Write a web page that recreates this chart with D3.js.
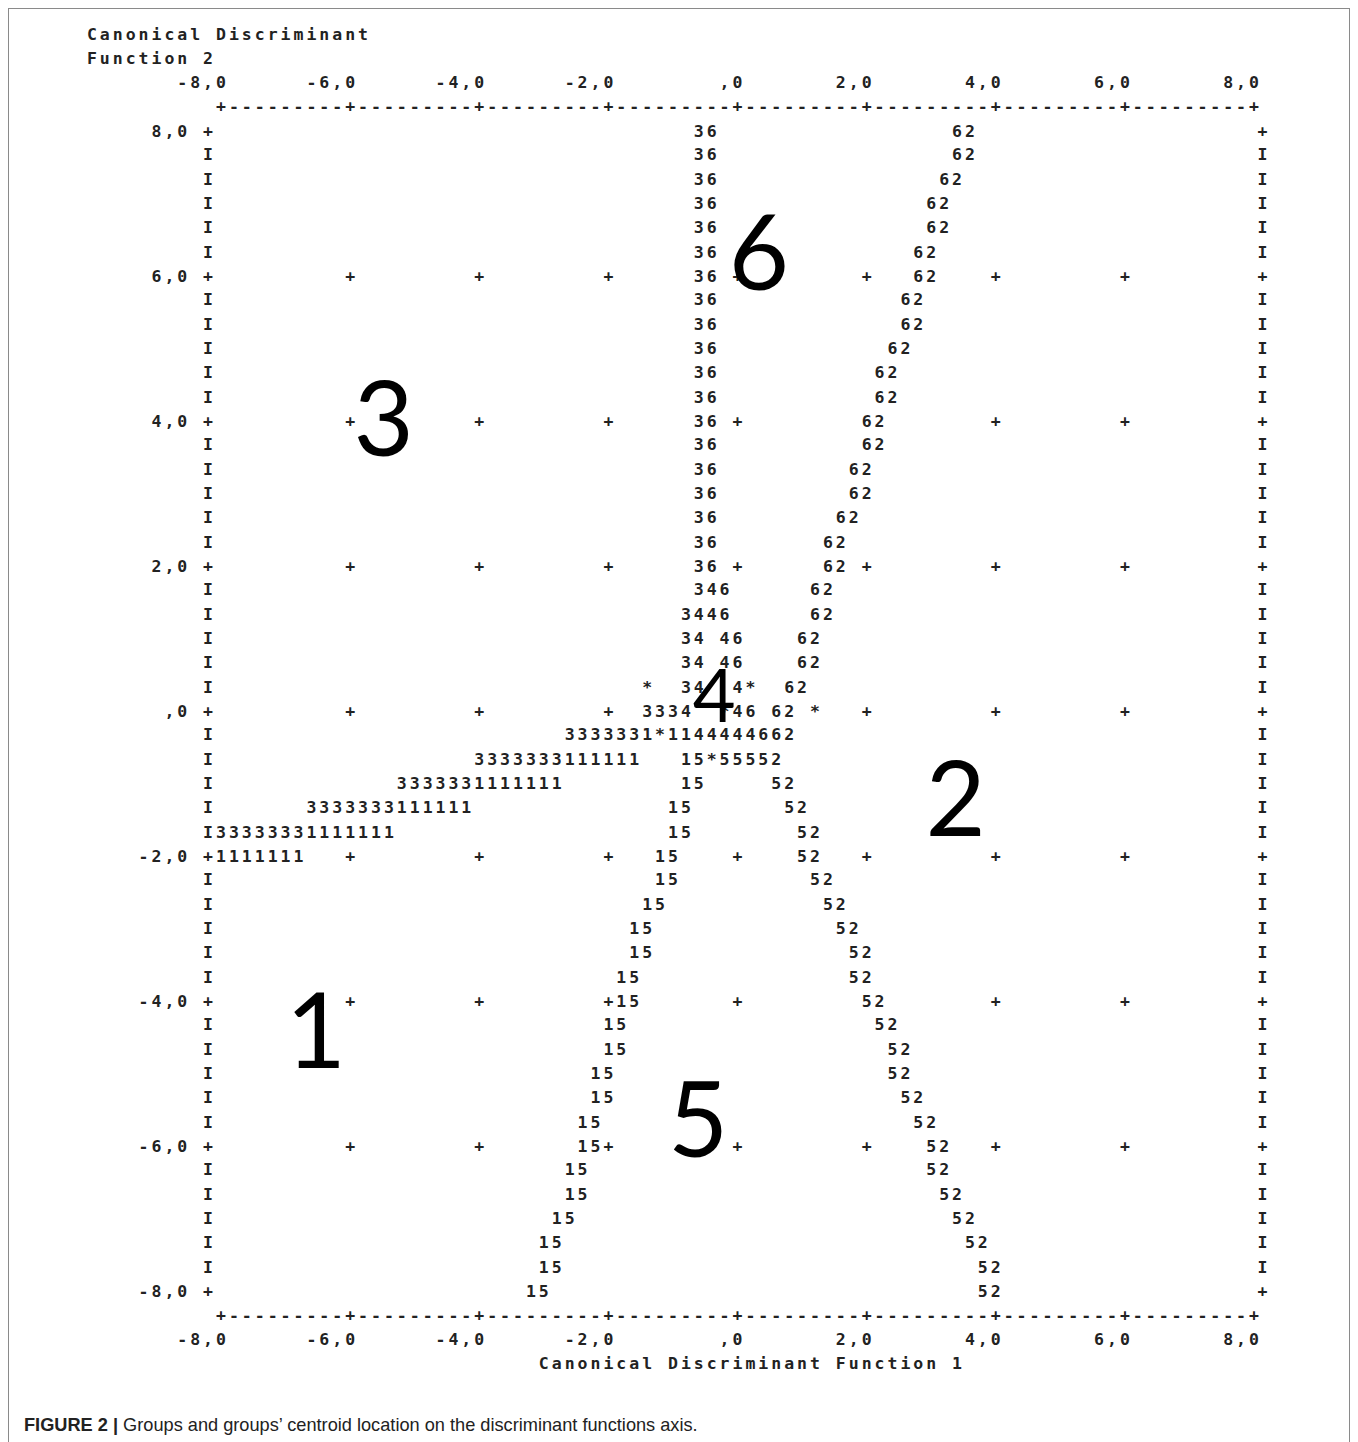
<!DOCTYPE html>
<html><head><meta charset="utf-8">
<script src="https://cdn.jsdelivr.net/npm/d3@7"></script>
<style>
html,body{margin:0;padding:0;background:#fff}
</style>
</head><body><script>
// ---------- data ----------
const xTicks = [-8, -6, -4, -2, 0, 2, 4, 6, 8];
const xTickLabels = ["-8,0", "-6,0", "-4,0", "-2,0", ",0", "2,0", "4,0", "6,0", "8,0"];
const yTicks = [8, 6, 4, 2, 0, -2, -4, -6, -8];
const yTickLabels = ["8,0", "6,0", "4,0", "2,0", ",0", "-2,0", "-4,0", "-6,0", "-8,0"];
const yTitleLines = ["Canonical Discriminant", "Function 2"];
const xTitle = "Canonical Discriminant Function 1";
const captionBold = "FIGURE 2 |";
const captionText = " Groups and groups\u2019 centroid location on the discriminant functions axis.";

// territorial map rows: Function 2 value, then [Function 1 value of first symbol, symbols]
const territoryF2 = [8.00, 7.67, 7.33, 7.00, 6.67, 6.33, 6.00, 5.67, 5.33, 5.00, 4.67, 4.33, 4.00,
  3.67, 3.33, 3.00, 2.67, 2.33, 2.00, 1.67, 1.33, 1.00, 0.67, 0.33, 0.00, -0.33, -0.67, -1.00,
  -1.33, -1.67, -2.00, -2.33, -2.67, -3.00, -3.33, -3.67, -4.00, -4.33, -4.67, -5.00, -5.33,
  -5.67, -6.00, -6.33, -6.67, -7.00, -7.33, -7.67, -8.00];
const territorySegments = [
  [[-0.6, "36"], [3.4, "62"]],
  [[-0.6, "36"], [3.4, "62"]],
  [[-0.6, "36"], [3.2, "62"]],
  [[-0.6, "36"], [3.0, "62"]],
  [[-0.6, "36"], [3.0, "62"]],
  [[-0.6, "36"], [2.8, "62"]],
  [[-0.6, "36"], [2.8, "62"]],
  [[-0.6, "36"], [2.6, "62"]],
  [[-0.6, "36"], [2.6, "62"]],
  [[-0.6, "36"], [2.4, "62"]],
  [[-0.6, "36"], [2.2, "62"]],
  [[-0.6, "36"], [2.2, "62"]],
  [[-0.6, "36"], [2.0, "62"]],
  [[-0.6, "36"], [2.0, "62"]],
  [[-0.6, "36"], [1.8, "62"]],
  [[-0.6, "36"], [1.8, "62"]],
  [[-0.6, "36"], [1.6, "62"]],
  [[-0.6, "36"], [1.4, "62"]],
  [[-0.6, "36"], [1.4, "62"]],
  [[-0.6, "346"], [1.2, "62"]],
  [[-0.8, "3446"], [1.2, "62"]],
  [[-0.8, "34 46"], [1.0, "62"]],
  [[-0.8, "34 46"], [1.0, "62"]],
  [[-1.4, "*"], [-0.8, "34"], [0.0, "4*"], [0.8, "62"]],
  [[-1.4, "3334"], [-0.2, "*46"], [0.6, "62"], [1.2, "*"]],
  [[-2.6, "3333331*1144444662"]],
  [[-4.0, "3333333111111"], [-0.8, "15*55552"]],
  [[-5.2, "3333331111111"], [-0.8, "15"], [0.6, "52"]],
  [[-6.6, "3333333111111"], [-1.0, "15"], [0.8, "52"]],
  [[-8.0, "33333331111111"], [-1.0, "15"], [1.0, "52"]],
  [[-8.0, "1111111"], [-1.2, "15"], [1.0, "52"]],
  [[-1.2, "15"], [1.2, "52"]],
  [[-1.4, "15"], [1.4, "52"]],
  [[-1.6, "15"], [1.6, "52"]],
  [[-1.6, "15"], [1.8, "52"]],
  [[-1.8, "15"], [1.8, "52"]],
  [[-1.8, "15"], [2.0, "52"]],
  [[-2.0, "15"], [2.2, "52"]],
  [[-2.0, "15"], [2.4, "52"]],
  [[-2.2, "15"], [2.4, "52"]],
  [[-2.2, "15"], [2.6, "52"]],
  [[-2.4, "15"], [2.8, "52"]],
  [[-2.4, "15"], [3.0, "52"]],
  [[-2.6, "15"], [3.0, "52"]],
  [[-2.6, "15"], [3.2, "52"]],
  [[-2.8, "15"], [3.4, "52"]],
  [[-3.0, "15"], [3.6, "52"]],
  [[-3.0, "15"], [3.8, "52"]],
  [[-3.2, "15"], [3.8, "52"]]
];

// group labels placed over their territories
const groupNames = ["1", "2", "3", "4", "5", "6"];
const groupF1 = [-6.53, 3.38, -5.48, -0.36, -0.61, 0.33];
const groupF2 = [-4.41, -1.21, 4.04, 0.22, -5.63, 6.33];

// ---------- layout / style ----------
const W = 1358, H = 1442;
const cellsPerUnit = 5;              // 10 character cells per 2.0 interval
const step = 1 / cellsPerUnit;
const rowsPerUnit = 3;
const monoFont = "'DejaVu Sans Mono', monospace";
const monoSize = 16.5;
const ink = "#222";
const groupLabelSize = {"1": 104, "2": 104, "3": 104, "4": 74, "5": 104, "6": 104};

const svg = d3.select("body").append("svg")
  .attr("width", W).attr("height", H)
  .attr("viewBox", `0 0 ${W} ${H}`);

svg.append("rect").attr("x", 0).attr("y", 0).attr("width", W).attr("height", H).attr("fill", "#fff");
// frame
svg.append("rect").attr("x", 8.5).attr("y", 8.5).attr("width", 1341).attr("height", 1460)
  .attr("fill", "none").attr("stroke", "#8a8a8a").attr("stroke-width", 1);

const x = d3.scaleLinear().domain([-8, 8]).range([221, 1254]);
const y = d3.scaleLinear().domain([8, -8]).range([131, 1291]);
const rowUnit = 1 / rowsPerUnit;

const textLayer = svg.append("g")
  .attr("font-family", monoFont).attr("font-size", monoSize).attr("font-weight", "bold")
  .attr("fill", ink).attr("text-anchor", "middle")
  .attr("dominant-baseline", "central");

function putChars(f1Start, f2, str) {
  const pts = [];
  for (let i = 0; i < str.length; i++) {
    if (str[i] !== " ") pts.push({c: str[i], f1: f1Start + i * step, f2: f2});
  }
  textLayer.selectAll(null).data(pts).enter().append("text")
    .attr("x", d => x(d.f1)).attr("y", d => y(d.f2)).text(d => d.c);
}

// occupied cells in the map
const occupied = new Set();
const key = (f1, f2) => Math.round(f2 * rowsPerUnit) + ":" + Math.round(f1 * cellsPerUnit);
territorySegments.forEach((segs, r) => {
  segs.forEach(([f1, s]) => {
    for (let i = 0; i < s.length; i++) if (s[i] !== " ") occupied.add(key(f1 + i * step, territoryF2[r]));
  });
});

// axis lines (top and bottom)
const nCells = (xTicks[xTicks.length - 1] - xTicks[0]) * cellsPerUnit;
let axisLine = "";
for (let i = 0; i <= nCells; i++) axisLine += (i % 10 === 0) ? "+" : "-";
putChars(xTicks[0], yTicks[0] + rowUnit, axisLine);
putChars(xTicks[0], yTicks[yTicks.length - 1] - rowUnit, axisLine);

// x tick labels, right-aligned on tick columns
xTicks.forEach((t, i) => {
  const s = xTickLabels[i];
  putChars(t - (s.length - 1) * step, yTicks[0] + 2 * rowUnit, s);
  putChars(t - (s.length - 1) * step, yTicks[yTicks.length - 1] - 2 * rowUnit, s);
});

// titles
putChars(xTicks[0] - 10 * step, yTicks[0] + 4 * rowUnit, yTitleLines[0]);
putChars(xTicks[0] - 10 * step, yTicks[0] + 3 * rowUnit, yTitleLines[1]);
putChars(-3.0, yTicks[yTicks.length - 1] - 3 * rowUnit, xTitle);

// side borders and y tick labels
territoryF2.forEach((f2, r) => {
  const isTick = yTicks.some(t => Math.abs(t - f2) < 1e-6);
  const ch = isTick ? "+" : "I";
  putChars(xTicks[0] - step, f2, ch);
  putChars(xTicks[xTicks.length - 1] + 0.65 * step, f2, ch);
});
yTicks.forEach((t, i) => {
  const s = yTickLabels[i];
  putChars(xTicks[0] - 3 * step - (s.length - 1) * step, t, s);
});

// interior grid crosses
yTicks.slice(1, -1).forEach(t2 => {
  xTicks.slice(1, -1).forEach(t1 => {
    if (!occupied.has(key(t1, t2))) putChars(t1, t2, "+");
  });
});

// territory boundaries
territorySegments.forEach((segs, r) => {
  segs.forEach(([f1, s]) => putChars(f1, territoryF2[r], s));
});

// big group labels
svg.append("g").selectAll("text").data(groupNames).enter().append("text")
  .attr("x", (d, i) => x(groupF1[i]))
  .attr("y", (d, i) => y(groupF2[i]))
  .attr("dy", "0.36em")
  .attr("text-anchor", "middle")
  .attr("font-family", "Lato, 'Open Sans', sans-serif")
  .attr("font-size", d => groupLabelSize[d])
  .attr("fill", "#000")
  .text(d => d);

// caption
const cap = svg.append("text").attr("x", 24).attr("y", 1431)
  .attr("font-family", "'Liberation Sans', Arial, sans-serif").attr("font-size", 18.2).attr("fill", "#222");
cap.append("tspan").attr("font-weight", "bold").text(captionBold);
cap.append("tspan").text(captionText);
</script></body></html>
